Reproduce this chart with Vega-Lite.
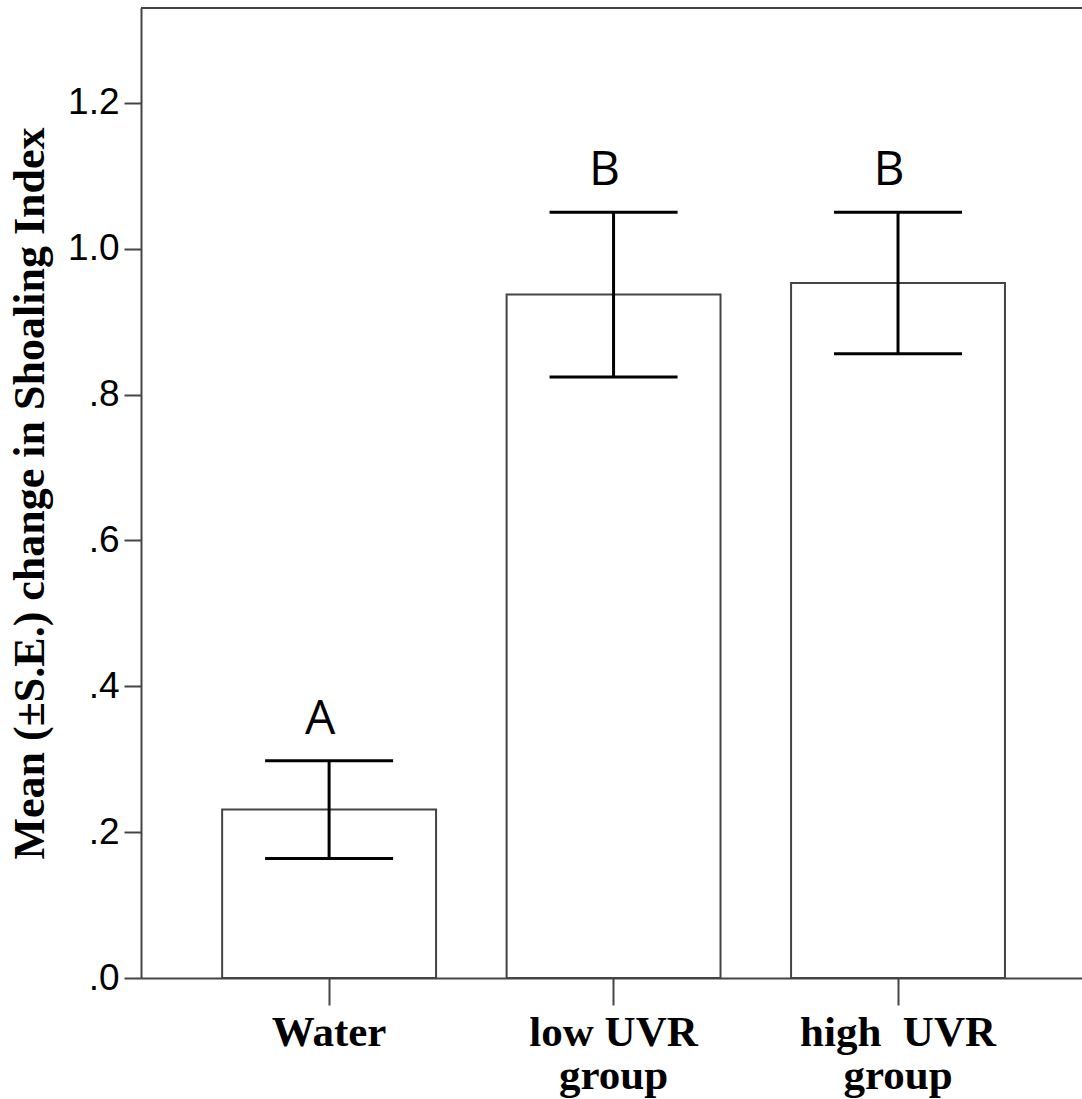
{
  "$schema": "https://vega.github.io/schema/vega-lite/v6.json",
  "width": 941,
  "height": 970,
  "autosize": {"type": "none"},
  "padding": {"left": 141, "top": 8, "right": 0, "bottom": 121},
  "background": "white",
  "config": {
    "view": {"stroke": null},
    "axisX": {
      "title": null, "labelAngle": 0, "labelLimit": 500,
      "labelFont": "Liberation Serif", "labelFontWeight": "bold", "labelFontSize": 43,
      "labelColor": "black", "labelPadding": 6, "labelLineHeight": 43,
      "tickSize": 27, "tickWidth": 2, "tickColor": "#444444",
      "domainColor": "#444444", "domainWidth": 2
    },
    "axisY": {
      "titleFont": "Liberation Serif", "titleFontWeight": "bold", "titleFontSize": 44,
      "titleColor": "black", "titlePadding": 15, "titleLimit": 1000,
      "grid": false,
      "labelFont": "Liberation Sans", "labelFontSize": 37, "labelColor": "black", "labelPadding": 5,
      "tickSize": 17, "tickWidth": 2, "tickColor": "#444444",
      "domainColor": "#444444", "domainWidth": 2
    }
  },
  "data": {
    "values": [
      {"group": "Water", "mean": 0.231, "lo": 0.164, "hi": 0.298, "sig": "A"},
      {"group": "low UVR group", "mean": 0.937, "lo": 0.824, "hi": 1.05, "sig": "B"},
      {"group": "high UVR group", "mean": 0.953, "lo": 0.856, "hi": 1.05, "sig": "B"}
    ]
  },
  "layer": [
    {
      "mark": {"type": "bar", "fill": "white", "stroke": "#444444", "strokeWidth": 2},
      "encoding": {
        "x": {
          "field": "group", "type": "nominal", "sort": null, "title": null,
          "scale": {"paddingInner": 0.248, "paddingOuter": 0.278, "align": 0.513},
          "axis": {"labelExpr": "datum.value == 'low UVR group' ? ['low UVR', 'group'] : datum.value == 'high UVR group' ? ['high\u00a0 UVR', 'group'] : datum.label"}
        },
        "y": {
          "field": "mean", "type": "quantitative",
          "title": "Mean (±S.E.) change in Shoaling Index",
          "scale": {"domain": [0, 1.33], "nice": false},
          "axis": {
            "values": [0, 0.2, 0.4, 0.6, 0.8, 1.0, 1.2],
            "labelExpr": "datum.value < 0.999 ? replace(format(datum.value, '.1f'), '0.', '.') : format(datum.value, '.1f')"
          }
        }
      }
    },
    {
      "mark": {"type": "rule", "color": "black", "strokeWidth": 3},
      "encoding": {
        "x": {
          "field": "group", "type": "nominal", "sort": null, "title": null,
          "axis": {"labelExpr": "datum.value == 'low UVR group' ? ['low UVR', 'group'] : datum.value == 'high UVR group' ? ['high\u00a0 UVR', 'group'] : datum.label"}
        },
        "y": {
          "field": "lo", "type": "quantitative",
          "title": "Mean (±S.E.) change in Shoaling Index",
          "axis": {
            "values": [0, 0.2, 0.4, 0.6, 0.8, 1.0, 1.2],
            "labelExpr": "datum.value < 0.999 ? replace(format(datum.value, '.1f'), '0.', '.') : format(datum.value, '.1f')"
          }
        },
        "y2": {"field": "hi"}
      }
    },
    {
      "mark": {"type": "tick", "color": "black", "opacity": 1, "size": 128, "thickness": 3},
      "encoding": {
        "x": {
          "field": "group", "type": "nominal", "sort": null, "title": null,
          "axis": {"labelExpr": "datum.value == 'low UVR group' ? ['low UVR', 'group'] : datum.value == 'high UVR group' ? ['high\u00a0 UVR', 'group'] : datum.label"}
        },
        "y": {
          "field": "lo", "type": "quantitative",
          "title": "Mean (±S.E.) change in Shoaling Index",
          "axis": {
            "values": [0, 0.2, 0.4, 0.6, 0.8, 1.0, 1.2],
            "labelExpr": "datum.value < 0.999 ? replace(format(datum.value, '.1f'), '0.', '.') : format(datum.value, '.1f')"
          }
        }
      }
    },
    {
      "mark": {"type": "tick", "color": "black", "opacity": 1, "size": 128, "thickness": 3},
      "encoding": {
        "x": {
          "field": "group", "type": "nominal", "sort": null, "title": null,
          "axis": {"labelExpr": "datum.value == 'low UVR group' ? ['low UVR', 'group'] : datum.value == 'high UVR group' ? ['high\u00a0 UVR', 'group'] : datum.label"}
        },
        "y": {
          "field": "hi", "type": "quantitative",
          "title": "Mean (±S.E.) change in Shoaling Index",
          "axis": {
            "values": [0, 0.2, 0.4, 0.6, 0.8, 1.0, 1.2],
            "labelExpr": "datum.value < 0.999 ? replace(format(datum.value, '.1f'), '0.', '.') : format(datum.value, '.1f')"
          }
        }
      }
    },
    {
      "mark": {"type": "text", "font": "Open Sans", "fontSize": 48, "baseline": "alphabetic", "dy": -27, "dx": -9, "color": "black"},
      "encoding": {
        "x": {
          "field": "group", "type": "nominal", "sort": null, "title": null,
          "axis": {"labelExpr": "datum.value == 'low UVR group' ? ['low UVR', 'group'] : datum.value == 'high UVR group' ? ['high\u00a0 UVR', 'group'] : datum.label"}
        },
        "y": {
          "field": "hi", "type": "quantitative",
          "title": "Mean (±S.E.) change in Shoaling Index",
          "axis": {
            "values": [0, 0.2, 0.4, 0.6, 0.8, 1.0, 1.2],
            "labelExpr": "datum.value < 0.999 ? replace(format(datum.value, '.1f'), '0.', '.') : format(datum.value, '.1f')"
          }
        },
        "text": {"field": "sig"}
      }
    },
    {
      "mark": {"type": "rule", "color": "#444444", "strokeWidth": 2},
      "encoding": {
        "y": {
          "datum": 1.33, "type": "quantitative",
          "title": "Mean (±S.E.) change in Shoaling Index",
          "axis": {
            "values": [0, 0.2, 0.4, 0.6, 0.8, 1.0, 1.2],
            "labelExpr": "datum.value < 0.999 ? replace(format(datum.value, '.1f'), '0.', '.') : format(datum.value, '.1f')"
          }
        }
      }
    }
  ]
}
